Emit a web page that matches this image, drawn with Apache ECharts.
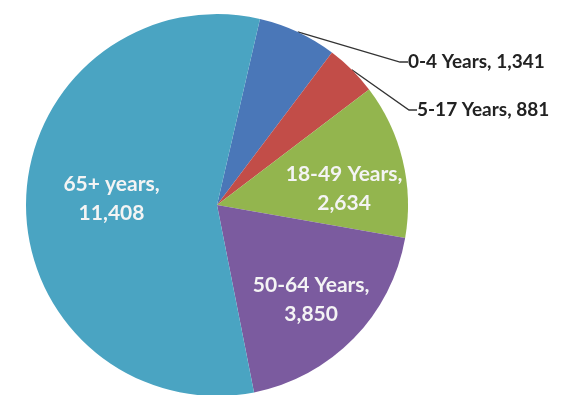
<!DOCTYPE html>
<html><head><meta charset="utf-8">
<script src="https://cdn.jsdelivr.net/npm/echarts@6/dist/echarts.min.js"></script>
<style>html,body{margin:0;padding:0;background:#fff}#c{width:584px;height:395px}</style>
</head><body><div id="c"></div>
<script>
// ---- data ----
const categories = ['0-4 Years', '5-17 Years', '18-49 Years', '50-64 Years', '65+ years'];
const values = [1341, 881, 2634, 3850, 11408];
const labelInside = [false, false, true, true, true];

// ---- style ----
const colors = ['#4a77b8', '#c24d48', '#93b54e', '#7b5b9f', '#4aa4c2'];
// outside label: [lineEndX, lineEndY, padLeft, padBottom]
const outsideLabelStyle = { 0: [390, 62, 18, 20], 1: [408, 110, 9, 30] };
// inside label nudges [dx, dy]
const insideNudge = { 2: [10, 12], 3: [8, 10], 4: [15, -4] };
const center = [217, 205];
const R = 191;
const fontFam = 'Lato, "Open Sans", sans-serif';

const fmt = v => v.toLocaleString('en-US');

const chart = echarts.init(document.getElementById('c'), null, { renderer: 'canvas' });
chart.setOption({
  animation: false,
  series: [
    {
      type: 'pie',
      center: center,
      radius: [0, R],
      startAngle: 77,
      clockwise: true,
      avoidLabelOverlap: false,
      silent: true,
      itemStyle: { borderWidth: 0 },
      data: categories.map((c, i) => {
        const s = outsideLabelStyle[i];
        return {
          name: c, value: values[i],
          itemStyle: { color: colors[i] },
          label: { show: !labelInside[i], padding: s ? [0, 0, s[3], s[2]] : 0 },
          labelLine: { show: !labelInside[i] }
        };
      }),
      label: {
        position: 'outside',
        formatter: p => p.name + ', ' + fmt(p.value),
        color: '#222',
        fontFamily: fontFam,
        fontWeight: 'bold',
        fontSize: 19
      },
      labelLine: { length: 8, length2: 8, lineStyle: { color: '#333', width: 1.3 } },
      labelLayout: p => {
        const s = outsideLabelStyle[p.dataIndex];
        if (!s) return {};
        return { x: s[0], y: s[1], align: 'left', verticalAlign: 'middle' };
      }
    },
    {
      type: 'pie',
      center: center,
      radius: [44, R],
      startAngle: 77,
      clockwise: true,
      silent: true,
      avoidLabelOverlap: false,
      itemStyle: { color: 'rgba(0,0,0,0)', borderWidth: 0 },
      data: categories.map((c, i) => ({
        name: c, value: values[i],
        label: { show: labelInside[i] }
      })),
      label: {
        position: 'inside',
        formatter: p => p.name + ',\n' + fmt(p.value),
        color: '#f4f4f4',
        fontFamily: fontFam,
        fontWeight: 'bold',
        fontSize: 21,
        lineHeight: 29
      },
      labelLine: { show: false },
      labelLayout: p => {
        const n = insideNudge[p.dataIndex];
        return n ? { dx: n[0], dy: n[1] } : {};
      }
    }
  ]
});
</script>
</body></html>
